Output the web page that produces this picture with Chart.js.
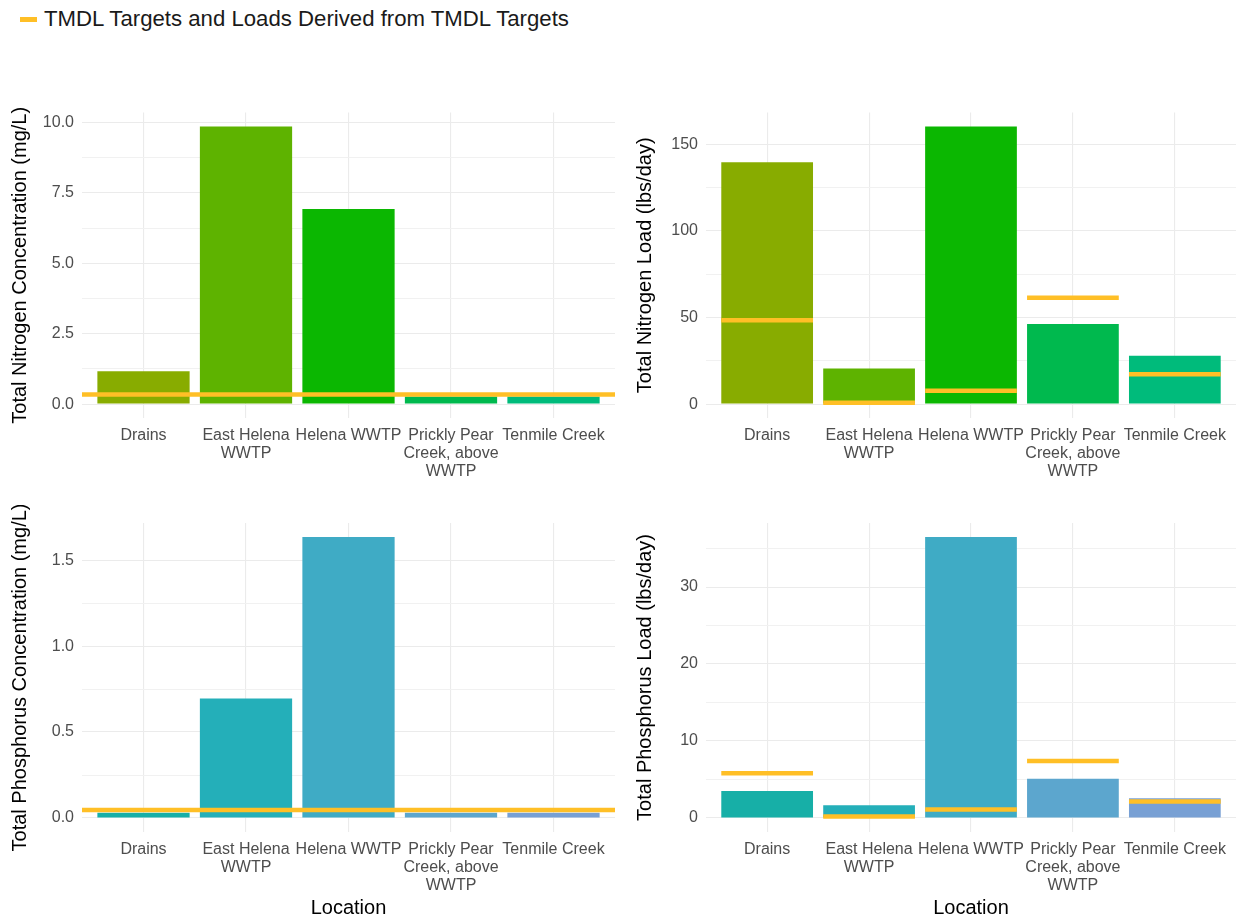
<!DOCTYPE html>
<html><head><meta charset="utf-8">
<script src="https://cdn.jsdelivr.net/npm/chart.js@4.4.0/dist/chart.umd.min.js"></script>
<style>
html,body{margin:0;padding:0;background:#fff;width:1236px;height:920px;overflow:hidden;font-family:"Liberation Sans",Arial,sans-serif;}
.panel{position:absolute;}
#legend{position:absolute;left:20px;top:6px;height:26px;display:flex;align-items:center;font-size:22.2px;color:#1a1a1a;white-space:nowrap;}
#legend .sw{display:inline-block;width:17px;height:5px;background:#FFBF26;margin-right:7px;}
</style></head><body>
<div id="legend"><span class="sw"></span><span>TMDL Targets and Loads Derived from TMDL Targets</span></div>
<div class="panel" style="left:0;top:95px"><canvas id="c1" width="618" height="400"></canvas></div>
<div class="panel" style="left:618px;top:95px"><canvas id="c2" width="618" height="400"></canvas></div>
<div class="panel" style="left:0;top:505px"><canvas id="c3" width="618" height="415"></canvas></div>
<div class="panel" style="left:618px;top:505px"><canvas id="c4" width="618" height="415"></canvas></div>
<script>
// ---------- data ----------
const categories = ['Drains', ['East Helena', 'WWTP'], 'Helena WWTP', ['Prickly Pear', 'Creek, above', 'WWTP'], 'Tenmile Creek'];

const tnConcentration = [1.17, 9.86, 6.93, 0.27, 0.27];
const tnConcentrationTarget = 0.34;
const tnLoad = [139.7, 20.6, 160.3, 46.3, 27.9];
const tnLoadTarget = [48.4, 0.8, 7.7, 61.4, 17.3];

const tpConcentration = [0.03, 0.695, 1.635, 0.03, 0.03];
const tpConcentrationTarget = 0.047;
const tpLoad = [3.5, 1.65, 36.5, 5.1, 2.57];
const tpLoadTarget = [5.8, 0.2, 1.1, 7.4, 2.15];

const nitrogenColors = ['#88AC00', '#5EB300', '#0BB701', '#00B94E', '#00BB7B'];
const phosphorusColors = ['#17AFA7', '#24AFB9', '#3FABC5', '#5CA6CE', '#78A0D4'];
const targetColor = '#FFBF26';

const tnConcTicks = [0, 2.5, 5, 7.5, 10];
const tnConcTickLabels = ['0.0', '2.5', '5.0', '7.5', '10.0'];
const tnConcMinor = [1.25, 3.75, 6.25, 8.75];
const tnLoadTicks = [0, 50, 100, 150];
const tnLoadTickLabels = ['0', '50', '100', '150'];
const tnLoadMinor = [25, 75, 125];
const tpConcTicks = [0, 0.5, 1, 1.5];
const tpConcTickLabels = ['0.0', '0.5', '1.0', '1.5'];
const tpConcMinor = [0.25, 0.75, 1.25];
const tpLoadTicks = [0, 10, 20, 30];
const tpLoadTickLabels = ['0', '10', '20', '30'];
const tpLoadMinor = [5, 15, 25, 35];

// ---------- chart builder ----------
const FONT = '"Liberation Sans", Arial, sans-serif';
const X_MIN = -0.6, X_MAX = categories.length - 1 + 0.6;

function makePanel(id, o) {
  const maxV = Math.max(...o.values, ...(Array.isArray(o.target) ? o.target : [o.target]));
  const yMin = -0.05 * maxV, yMax = 1.05 * maxV;
  const allTicks = [...o.major, ...o.minor].filter(v => v >= yMin && v <= yMax).sort((a, b) => a - b);
  const isMajor = v => o.major.some(m => Math.abs(m - v) < 1e-9);
  const halfBar = (ctx) => {
    const s = ctx.chart.scales.x;
    return Math.abs(s.getPixelForValue(1) - s.getPixelForValue(0)) * 0.45;
  };

  const datasets = [{
    type: 'bar',
    data: categories.map((c, i) => ({x: i, y: o.values[i]})),
    backgroundColor: o.colors,
    borderWidth: 0,
    barPercentage: 0.9,
    categoryPercentage: 1.0,
    order: 1
  }];
  if (Array.isArray(o.target)) {
    datasets.push({
      type: 'line',
      data: categories.map((c, i) => ({x: i, y: o.target[i]})),
      showLine: false,
      pointStyle: 'line',
      pointRadius: halfBar,
      pointHoverRadius: halfBar,
      pointBorderWidth: 4.5,
      pointHoverBorderWidth: 4.5,
      pointBorderColor: targetColor,
      pointBackgroundColor: targetColor,
      order: 0
    });
  } else {
    datasets.push({
      type: 'line',
      data: [{x: X_MIN, y: o.target}, {x: X_MAX, y: o.target}],
      borderColor: targetColor,
      borderWidth: 4.5,
      pointRadius: 0,
      order: 0
    });
  }

  return new Chart(document.getElementById(id), {
    data: {datasets},
    options: {
      responsive: false,
      animation: false,
      devicePixelRatio: 1,
      layout: {padding: o.padding},
      plugins: {legend: {display: false}, tooltip: {enabled: false}},
      scales: {
        x: {
          type: 'linear',
          min: X_MIN, max: X_MAX,
          offset: false,
          afterBuildTicks: s => { s.ticks = categories.map((c, i) => ({value: i})); },
          afterFit: s => { s.height = o.xHeight; },
          border: {display: false},
          grid: {color: '#EBEBEB', lineWidth: 1.1, drawTicks: false, offset: false},
          ticks: {
            autoSkip: false, maxRotation: 0, minRotation: 0, padding: 8,
            color: '#4D4D4D', font: {family: FONT, size: 16, lineHeight: 1.15},
            callback: v => categories[Math.round(v)]
          },
          title: o.xTitle ? {display: true, text: o.xTitle, color: '#000', font: {family: FONT, size: 20}, padding: {top: 0, bottom: 0}} : {display: false}
        },
        y: {
          type: 'linear',
          min: yMin, max: yMax,
          afterBuildTicks: s => { s.ticks = allTicks.map(v => ({value: v})); },
          afterFit: s => { s.width = o.yWidth; },
          border: {display: false},
          grid: {
            drawTicks: false,
            color: ctx => (ctx.tick && isMajor(ctx.tick.value)) ? '#EBEBEB' : '#F1F1F1',
            lineWidth: ctx => (ctx.tick && isMajor(ctx.tick.value)) ? 1.1 : 1
          },
          ticks: {
            padding: 8, color: '#4D4D4D', font: {family: FONT, size: 16},
            autoSkip: false,
            callback: v => { const k = o.major.findIndex(m => Math.abs(m - v) < 1e-9); return k >= 0 ? o.labels[k] : ''; }
          },
          title: {display: true, text: o.yTitle, color: '#000', font: {family: FONT, size: 20}, padding: {top: o.yTitlePad, bottom: 0}}
        }
      }
    }
  });
}

makePanel('c1', {values: tnConcentration, target: tnConcentrationTarget, colors: nitrogenColors,
  major: tnConcTicks, minor: tnConcMinor, labels: tnConcTickLabels,
  yTitle: 'Total Nitrogen Concentration (mg/L)', yTitlePad: 8, yWidth: 82, xHeight: 77,
  padding: {top: 15, right: 3, left: 0, bottom: 0}});
makePanel('c2', {values: tnLoad, target: tnLoadTarget, colors: nitrogenColors,
  major: tnLoadTicks, minor: tnLoadMinor, labels: tnLoadTickLabels,
  yTitle: 'Total Nitrogen Load (lbs/day)', yTitlePad: 15, yWidth: 88, xHeight: 77,
  padding: {top: 15, right: 0, left: 0, bottom: 0}});
makePanel('c3', {values: tpConcentration, target: tpConcentrationTarget, colors: phosphorusColors,
  major: tpConcTicks, minor: tpConcMinor, labels: tpConcTickLabels,
  yTitle: 'Total Phosphorus Concentration (mg/L)', yTitlePad: 8, yWidth: 82, xHeight: 88, xTitle: 'Location',
  padding: {top: 18, right: 3, left: 0, bottom: 0}});
makePanel('c4', {values: tpLoad, target: tpLoadTarget, colors: phosphorusColors,
  major: tpLoadTicks, minor: tpLoadMinor, labels: tpLoadTickLabels,
  yTitle: 'Total Phosphorus Load (lbs/day)', yTitlePad: 15, yWidth: 88, xHeight: 88, xTitle: 'Location',
  padding: {top: 18, right: 0, left: 0, bottom: 0}});
</script>
</body></html>
